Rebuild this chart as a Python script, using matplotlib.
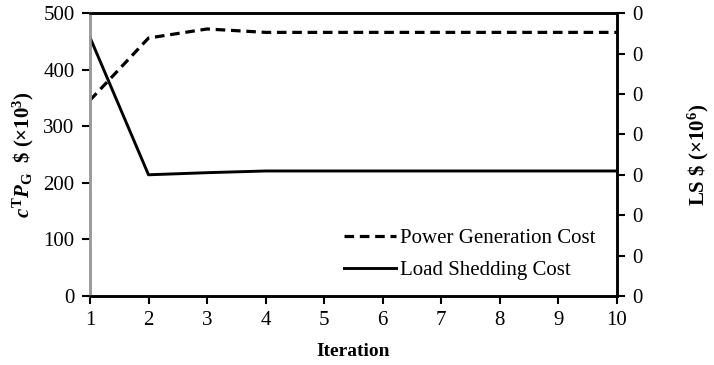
import numpy as np
import matplotlib.pyplot as plt

plt.rcParams['font.family'] = 'Liberation Serif'
plt.rcParams['mathtext.fontset'] = 'custom'
plt.rcParams['mathtext.rm'] = 'Liberation Serif:bold'
plt.rcParams['mathtext.it'] = 'Liberation Serif:italic:bold'
plt.rcParams['mathtext.bf'] = 'Liberation Serif:bold'

# data
iteration = [1, 2, 3, 4, 5, 6, 7, 8, 9, 10]
gen_cost = [346, 456, 472, 466, 466, 466, 466, 466, 466, 466]          # x10^3
shed_cost = [0.320, 0.150, 0.1526, 0.1547, 0.1547, 0.1547, 0.1547, 0.1547, 0.1547, 0.1547]  # x10^6

fig = plt.figure(figsize=(7.14, 3.65), dpi=100)
ax = fig.add_axes([0.126, 0.189, 0.738, 0.775])
ax2 = ax.twinx()

l1, = ax.plot(iteration, gen_cost, '--', color='black', lw=2.3, dashes=(3, 1.8),
              label='Power Generation Cost')
l2, = ax2.plot(iteration, shed_cost, '-', color='black', lw=2.1,
               label='Load Shedding Cost')

ax.set_xlim(1, 10)
ax.set_ylim(0, 500)
ax.set_yticks(np.arange(0, 501, 100))
ax.set_xticks(iteration)
ax2.set_ylim(0, 0.35)
ax2.set_yticks(np.arange(0, 0.351, 0.05))
ax2.yaxis.set_major_formatter(plt.FormatStrFormatter('%.0f'))

for a in (ax, ax2):
    a.tick_params(labelsize=15, width=1.5, length=6, direction='out', colors='black', pad=5)
    for s in a.spines.values():
        s.set_linewidth(1.8)
ax.spines['left'].set_color('#999999')
ax2.spines['left'].set_color('#999999')

ax.set_xlabel('Iteration', fontsize=14, fontweight='bold', labelpad=9)
ax.set_ylabel(r'$c^{\mathrm{T}}P_{\mathrm{G}}$  \$ (×10$^{3}$)', fontsize=15, fontweight='bold',
              labelpad=5)
ax2.set_ylabel(r'LS \$ (×10$^{6}$)', fontsize=15, fontweight='bold', labelpad=31)

ax.legend(handles=[l1, l2], loc='lower right', bbox_to_anchor=(0.995, -0.01),
          frameon=False, fontsize=15, handlelength=2.5, handletextpad=0.2,
          labelspacing=0.6)

plt.savefig('out.png', dpi=100)
